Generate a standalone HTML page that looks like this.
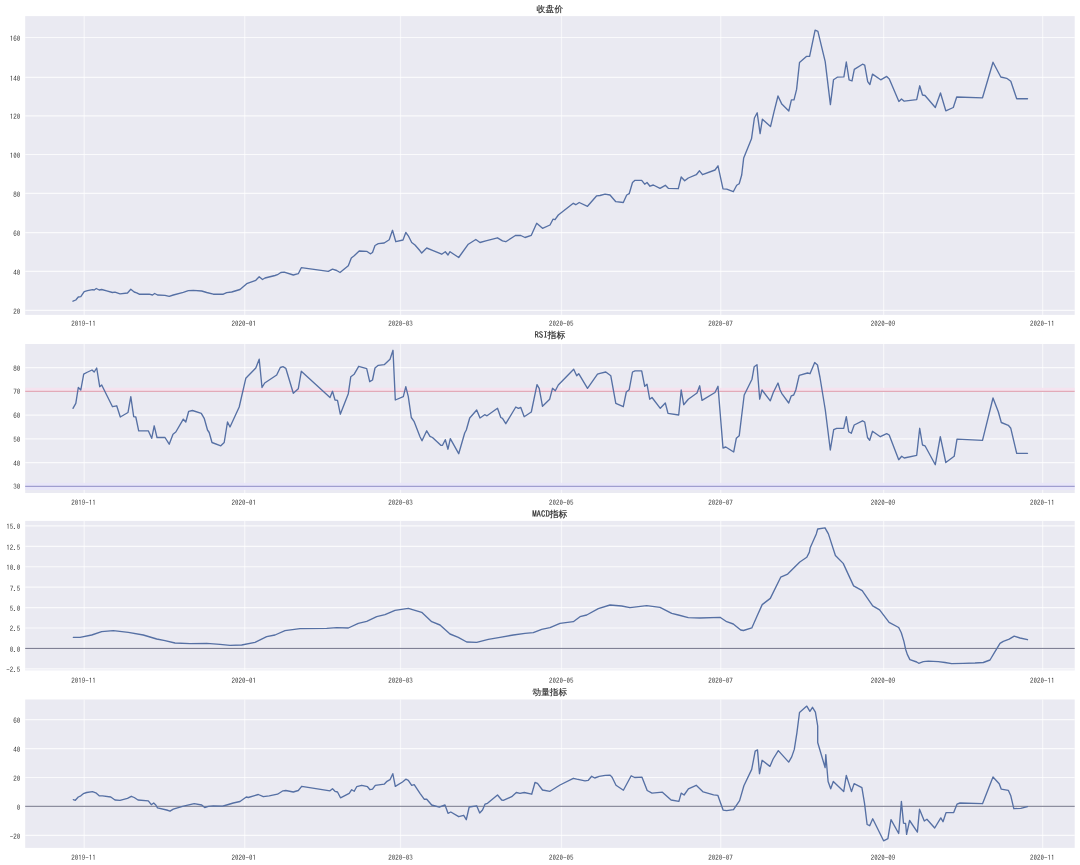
<!DOCTYPE html><html><head><meta charset="utf-8"><title>chart</title><style>html,body{margin:0;padding:0;background:#fff;}svg{display:block;filter:blur(0.35px);}.tk{font-family:"IPAGothic","Liberation Sans",sans-serif;font-size:7px;fill:#3a3a3a;}.tt{font-family:"WenQuanYi Zen Hei","Noto Sans CJK SC",sans-serif;font-size:8.8px;fill:#262626;stroke:#262626;stroke-width:0.15px;}</style></head><body>
<svg width="1080" height="865" viewBox="0 0 1080 865">
<rect width="1080" height="865" fill="#fff"/>
<rect x="25.2" y="16.1" width="1049.5" height="298.8" fill="#EAEAF2"/>
<path d="M84.2 16.1V314.9M244.7 16.1V314.9M400.5 16.1V314.9M561.5 16.1V314.9M720.7 16.1V314.9M883.6 16.1V314.9M1042.6 16.1V314.9" stroke="#fff" stroke-opacity="0.55" stroke-width="1.3" fill="none"/>
<path d="M25.2 310.4H1074.7M25.2 271.4H1074.7M25.2 232.6H1074.7M25.2 193.4H1074.7M25.2 154.5H1074.7M25.2 115.9H1074.7M25.2 77.3H1074.7M25.2 37.5H1074.7" stroke="#fff" stroke-opacity="0.75" stroke-width="1.2" fill="none"/>
<path d="M73 301.2 75.8 300 78.3 297 80.8 296.7 84.2 291.7 87.5 290.7 92.5 289.7 94.2 290 96.3 288.5 99.2 290 101.7 289.5 106.7 290.8 112.5 292.5 115 292.2 120 293.8 127.5 293 130.8 289.3 134.2 292 136.7 292.8 139.2 294.2 149.2 294.2 152.5 295 154.7 293.5 157.5 295 165 295.3 169.2 296.3 173.3 295 183.3 292.3 188.3 290.7 193.3 290.3 201.7 291 206.7 292.5 213.3 294.2 223.3 294.2 226.7 292.7 231.7 292 240 289.5 246.7 283.7 255.8 280.3 259.2 276.7 262.5 279.5 265 278 275 275.5 277.5 274.7 280.8 272.5 284.2 272.2 293.3 275 298.3 273.7 301.3 267.7 328.3 271.3 332.5 269.2 336.7 270.5 340 272.5 348.3 265.8 351.3 258 354.2 255.8 359.2 251 366.7 251.3 370.3 253.8 372.5 252.5 375 245.5 378.3 243.7 384.2 243 389.2 239.7 392.5 230.3 395.8 241.7 403 240 405.8 232.5 408.3 235.8 411.7 242.5 415 245 420 250.8 421.7 253 426.7 248 432.5 250.3 441.7 254.2 445.3 251.7 448 255 450 251.7 458.7 257.5 468.3 244.2 475.8 239.5 480 242.5 485.8 240.8 497.5 237.8 502.5 240.8 505.8 241.7 515.8 235.3 520.8 235.5 525 237.5 531.3 235.3 536.7 223.3 542.5 228.3 550 225 553 219.2 555 219.7 558.3 215 573.3 203.3 575.8 204.7 579.2 202.5 587.5 206.3 596.7 195.8 600 195.5 605 194.2 610 195 615.8 201.7 623.3 202.5 626.7 195 629.2 193.7 632.5 182.5 635 180.3 641.7 180.3 644.7 184.2 647 182.5 650 186.2 653.3 185 660 188.3 665.3 185.3 668.3 188.3 678.3 188.7 681.2 177 684.7 180.8 688.3 178 696.3 174.7 699.5 170.8 702.5 174.7 715 170 718 165.8 723 188.8 726.7 189.2 733.3 191.7 736.7 185.3 739.2 183.7 741.7 175 743.7 157.9 751.5 138.8 754.4 118 757.2 112.8 760.1 133.6 762.4 119.2 770.5 126.6 774 111.9 778 96 781.8 104.1 788.8 111 791.4 99.8 794 99.8 796.6 89.4 799.5 62.5 806.4 56.4 809.6 56.4 815.1 30.1 817.9 31.3 825.2 61.6 830.4 104.6 833.5 79.8 837.3 77.2 843.9 76.9 846.3 62 849.1 79.8 852 81 854.3 69.4 862.5 64.2 864.7 65.1 867.7 81.6 869.9 84.5 872.5 74.1 880.7 79.8 886.7 76.4 889.3 79 898.9 101.5 901.5 98.9 904.2 101.2 916.7 99.7 919.7 85.8 922.5 95 925 95.5 935.3 107.5 940.5 93 945.8 110.8 953.3 107.5 956.7 97 982.5 97.8 993 62.2 1000.8 77 1006.7 78.3 1010.8 81.3 1016.7 98.7 1027.5 98.7" stroke="#5670A4" stroke-width="1.35" fill="none" stroke-linejoin="round" stroke-linecap="round"/>
<text class="tk" x="83.6" y="326.2" text-anchor="middle">2019-11</text>
<text class="tk" x="243.8" y="326.2" text-anchor="middle">2020-01</text>
<text class="tk" x="400.5" y="326.2" text-anchor="middle">2020-03</text>
<text class="tk" x="561.2" y="326.2" text-anchor="middle">2020-05</text>
<text class="tk" x="720.6" y="326.2" text-anchor="middle">2020-07</text>
<text class="tk" x="883" y="326.2" text-anchor="middle">2020-09</text>
<text class="tk" x="1042.2" y="326.2" text-anchor="middle">2020-11</text>
<text class="tk" x="20.2" y="313.9" text-anchor="end">20</text>
<text class="tk" x="20.2" y="274.9" text-anchor="end">40</text>
<text class="tk" x="20.2" y="236.1" text-anchor="end">60</text>
<text class="tk" x="20.2" y="196.9" text-anchor="end">80</text>
<text class="tk" x="20.2" y="158" text-anchor="end">100</text>
<text class="tk" x="20.2" y="119.4" text-anchor="end">120</text>
<text class="tk" x="20.2" y="80.8" text-anchor="end">140</text>
<text class="tk" x="20.2" y="41" text-anchor="end">160</text>
<text class="tt" x="549.8" y="12" text-anchor="middle">收盘价</text>
<rect x="25.2" y="344" width="1049.5" height="149" fill="#EAEAF2"/>
<path d="M84.2 344V493M244.7 344V493M400.5 344V493M561.5 344V493M720.7 344V493M883.6 344V493M1042.6 344V493" stroke="#fff" stroke-opacity="0.55" stroke-width="1.3" fill="none"/>
<path d="M25.2 486.4H1074.7M25.2 462.64H1074.7M25.2 438.88H1074.7M25.2 415.12H1074.7M25.2 391.36H1074.7M25.2 367.6H1074.7" stroke="#fff" stroke-opacity="0.75" stroke-width="1.2" fill="none"/>
<rect x="25.2" y="387.8" width="1049.5" height="3.5" fill="#F6E2EE" opacity="0.9"/>
<path d="M25.2 391.3H1074.7" stroke="#E2AAB8" stroke-width="1.2"/>
<rect x="25.2" y="482.9" width="1049.5" height="7" fill="#E8E6FA" opacity="0.9"/>
<path d="M25.2 486.4H1074.7" stroke="#A09ED0" stroke-width="1.2"/>
<path d="M73 408.3 75.8 403.3 78.3 387.5 80.8 390 83.7 374.2 86.7 372.5 92 370 94.2 372 96.7 368 99.7 386.7 101.7 385 112.5 406.7 116.7 405.8 120.3 417 128 412.5 130.8 396.7 133.7 416.7 135.8 417 138.7 430.8 148.3 430.8 151.7 438.3 154.2 425.8 157 437.5 165 437.5 169.2 444.2 173 434.2 175.8 432 183.3 419.2 185.8 422 188.7 411.3 192.5 410.5 201.3 413.3 204.2 418.3 207.5 430 209.2 432.5 212 442.5 220.8 445.8 224.2 442.5 227.5 422 230 427 239.2 407 245.8 378.3 255.8 368 259.2 359.2 262 387.5 264.7 383 276.7 375 280.3 367.5 283 366.7 285.8 368.3 293.3 393.3 298.3 388.7 301.3 371.3 330 397.5 332.5 391.3 335 400 337.5 400.3 340.3 414.2 348.3 393.7 350.8 376.7 354.2 374.2 358.7 366.3 366.7 368.7 369.7 381.7 372.5 380 375 368 378.3 365.3 384.2 364.7 390 359.2 393 350.3 395.3 400 403.3 396.7 405.8 386.7 408.3 396.7 411.3 417.5 414.2 421.7 420 436.7 422 440.8 426.7 430.8 430 436.3 432.5 437.5 440.8 445.3 442.5 445.3 445.3 439.7 448 449.2 450.3 438.7 458.7 453.7 464.7 433 466.3 430 469.7 418 476.7 410 480 418 484.7 414.7 487 415.8 497.5 408.3 500.8 417.5 502.5 418.3 505.8 423.7 515.8 407 518.3 408.3 520.8 407.5 524.2 416.7 531.3 412 537 384.7 539.2 388.3 542.5 406.3 549.7 399.2 552.5 388.3 555.3 390.8 558.3 385 573.7 369.2 576.7 375.8 578.7 373.7 587.5 388.3 597.5 374.2 600 373.3 605.8 372 610.8 375.8 615.8 403.3 623.3 406.7 626.3 392 629.2 389.7 632.5 372 635 370.8 641.7 370.8 644.7 386.3 647 384.2 649.7 399.2 652 397.5 660.3 408.3 665.3 403 668 413.3 678.7 415 681.2 390 683.7 404.7 688.3 399.2 697 393 699.7 385.8 702 400.3 715 392.5 718 386.3 723 448 725.8 447 733.7 452 736.3 438.3 739.2 435.8 744.2 395 746.7 390 752 379.2 754.2 366.7 757 364.7 759.7 399.2 762 390 770.3 400.8 773.3 392.5 778 383 780 389.7 781.7 393.3 788.7 403 791.3 395.8 793.7 395 795.8 390 799.2 375.3 807.5 373 810 373.7 814.7 362.5 817.5 365 820 377.5 825.3 410 830.3 450 833.7 429.7 836.7 428.3 843.7 428.3 846.3 416.7 848.7 431.7 851.3 433.3 854.2 425 862.5 420.8 864.7 422 867.5 437.5 869.7 440.3 872.5 431.3 880.3 436.7 886.7 433.7 889.2 435 898.7 459.7 901.7 456.3 904.2 458 916.7 455.3 919.7 428.3 922.5 445 925 445.8 935.3 464.7 940.3 436.7 945.8 462.5 954.2 456.3 957 439.2 982.5 440.3 993 398 998.3 411.7 1001.3 422.5 1008.3 425.3 1010.8 428.3 1016.7 453.3 1027.5 453.3" stroke="#5670A4" stroke-width="1.35" fill="none" stroke-linejoin="round" stroke-linecap="round"/>
<text class="tk" x="83.6" y="504.7" text-anchor="middle">2019-11</text>
<text class="tk" x="243.8" y="504.7" text-anchor="middle">2020-01</text>
<text class="tk" x="400.5" y="504.7" text-anchor="middle">2020-03</text>
<text class="tk" x="561.2" y="504.7" text-anchor="middle">2020-05</text>
<text class="tk" x="720.6" y="504.7" text-anchor="middle">2020-07</text>
<text class="tk" x="883" y="504.7" text-anchor="middle">2020-09</text>
<text class="tk" x="1042.2" y="504.7" text-anchor="middle">2020-11</text>
<text class="tk" x="20.2" y="489.3" text-anchor="end">30</text>
<text class="tk" x="20.2" y="465.54" text-anchor="end">40</text>
<text class="tk" x="20.2" y="441.78" text-anchor="end">50</text>
<text class="tk" x="20.2" y="418.02" text-anchor="end">60</text>
<text class="tk" x="20.2" y="394.26" text-anchor="end">70</text>
<text class="tk" x="20.2" y="370.5" text-anchor="end">80</text>
<text class="tt" x="549.8" y="338.2" text-anchor="middle"><tspan font-family="IPAGothic">RSI</tspan>指标</text>
<rect x="25.2" y="520.9" width="1049.5" height="149.5" fill="#EAEAF2"/>
<path d="M84.2 520.9V670.4M244.7 520.9V670.4M400.5 520.9V670.4M561.5 520.9V670.4M720.7 520.9V670.4M883.6 520.9V670.4M1042.6 520.9V670.4" stroke="#fff" stroke-opacity="0.55" stroke-width="1.3" fill="none"/>
<path d="M25.2 668.82H1074.7M25.2 648.4H1074.7M25.2 627.98H1074.7M25.2 607.57H1074.7M25.2 587.15H1074.7M25.2 566.73H1074.7M25.2 546.32H1074.7M25.2 525.9H1074.7" stroke="#fff" stroke-opacity="0.75" stroke-width="1.2" fill="none"/>
<path d="M25.2 648.4H1074.7" stroke="#62637A" stroke-width="0.9"/>
<path d="M73.3 637.3 80 637.3 91.7 635 101.7 631.7 113.3 630.7 128.3 632.3 143.3 635 156.7 639 165 640.7 175 643 190 643.7 206.7 643.3 220 644.3 230 645.3 241.7 645 255 642.3 266.7 636.7 275 635 285 630.7 300 628.7 326.7 628.3 336.7 627.7 348.3 628 358.3 623.3 366.7 621.3 376.7 616.7 385 614.7 395 610.3 408.3 608.3 421.7 612.3 431.7 621.7 440 625 450 634 458.3 637.3 466.7 642 476.7 642.3 488.3 639.3 500 637.3 513.3 635 525 633.3 533.3 632.7 541.7 629.3 550 627.7 560 623.3 573.3 621.7 580 616.7 586.7 615 598.3 608.7 610 605 621.7 606 630 607.7 646.7 605.7 660 607.3 671.7 613.3 678.3 615 688.3 617.7 700 618 720 617.3 726.7 621.7 733.3 624 740.7 630 743.5 630.5 751.8 627.9 757.3 615.4 762.2 604.6 770.3 598.4 780.7 577.2 787.7 574.1 799.8 562 806.8 557.3 809.4 552.1 810.2 547.7 816.3 533.9 817.7 529 825 527.8 828.4 533.9 835.4 555.5 843.2 563.4 853.6 585.9 862.2 590.7 872.7 605.8 879.6 609.8 889.1 622.3 898.7 627.5 901.3 632.7 903.9 641.4 905.6 649.2 907.3 654.4 909.9 659.6 916.7 662 918.7 663.3 923.3 661.7 928.3 661.2 938.3 661.7 945 662.5 951.7 663.7 963.3 663.3 975 663 983.3 662.5 990 660 995 651.7 1000 643.3 1003.3 641.3 1009.2 639.2 1014.2 636.2 1020 638 1027.5 639.7" stroke="#5670A4" stroke-width="1.35" fill="none" stroke-linejoin="round" stroke-linecap="round"/>
<text class="tk" x="83.6" y="682.6" text-anchor="middle">2019-11</text>
<text class="tk" x="243.8" y="682.6" text-anchor="middle">2020-01</text>
<text class="tk" x="400.5" y="682.6" text-anchor="middle">2020-03</text>
<text class="tk" x="561.2" y="682.6" text-anchor="middle">2020-05</text>
<text class="tk" x="720.6" y="682.6" text-anchor="middle">2020-07</text>
<text class="tk" x="883" y="682.6" text-anchor="middle">2020-09</text>
<text class="tk" x="1042.2" y="682.6" text-anchor="middle">2020-11</text>
<text class="tk" x="20.2" y="672.32" text-anchor="end">-2.5</text>
<text class="tk" x="20.2" y="651.9" text-anchor="end">0.0</text>
<text class="tk" x="20.2" y="631.48" text-anchor="end">2.5</text>
<text class="tk" x="20.2" y="611.07" text-anchor="end">5.0</text>
<text class="tk" x="20.2" y="590.65" text-anchor="end">7.5</text>
<text class="tk" x="20.2" y="570.23" text-anchor="end">10.0</text>
<text class="tk" x="20.2" y="549.82" text-anchor="end">12.5</text>
<text class="tk" x="20.2" y="529.4" text-anchor="end">15.0</text>
<text class="tt" x="549.8" y="516.6" text-anchor="middle"><tspan font-family="IPAGothic">MACD</tspan>指标</text>
<rect x="25.2" y="699.5" width="1049.5" height="148.4" fill="#EAEAF2"/>
<path d="M84.2 699.5V847.9M244.7 699.5V847.9M400.5 699.5V847.9M561.5 699.5V847.9M720.7 699.5V847.9M883.6 699.5V847.9M1042.6 699.5V847.9" stroke="#fff" stroke-opacity="0.55" stroke-width="1.3" fill="none"/>
<path d="M25.2 835.4H1074.7M25.2 806.45H1074.7M25.2 777.5H1074.7M25.2 748.55H1074.7M25.2 719.6H1074.7" stroke="#fff" stroke-opacity="0.75" stroke-width="1.2" fill="none"/>
<path d="M25.2 806.3H1074.7" stroke="#62637A" stroke-width="0.9"/>
<path d="M73.3 799.7 75.3 800.3 78.3 797 80.8 795.8 83.3 793.7 86.7 792.5 92.5 791.7 95.8 792.8 99.2 795.8 102.5 795.8 110.8 797 115 800 120 800.3 127.5 798.3 131.3 796.3 134.2 797.5 138 800 148.3 800.8 151.3 804.7 153.7 803 155.8 805 157.5 807.8 166.7 810 170 811.2 173.3 809.2 182.5 806.3 194.2 803.7 201.7 805 204.7 807.5 208.3 806.3 213.3 805.8 222.5 806.2 226.7 805 233.3 803 240 801.5 246.3 797 248.3 797.5 258.3 794.5 263.3 796.7 269.2 795.8 277.5 794.2 283 790.8 285.8 790.5 293.3 792 298.3 790.5 301.7 786.3 330 790.8 332.5 788.7 335 791.3 337.5 792 340.5 797.8 349.2 793.3 351.7 789.7 354.2 791.3 356.7 786.7 361.7 785.3 367.5 786.7 370 789.7 372.5 789.2 375.3 785.3 384.2 784.2 387 781.3 390 779.7 392.8 773.7 395.3 786.3 402.5 782 405.8 779.2 408.3 780.3 411.7 785.3 414.2 784.7 420 793.3 424.2 799.2 426.7 799.2 431.7 805 439.2 807.2 445 805 448 813.3 450.8 812 458.7 816.7 463.7 815.3 466.3 819.7 469.2 807 476.7 805.8 479.7 813 482.5 810 485 804.2 487.5 803.3 497.5 795 501.7 800 503.3 800.3 511.7 796.7 516.3 792.5 520 793.3 524.2 792.5 531.7 794.2 535 782.5 537.5 783.3 542.5 790 550 791.3 560 785 573.3 778.3 576.7 779.2 585 780.8 588.3 780.3 591.7 776.3 594.7 778 599.2 776.3 605.2 775.4 610.1 775.1 612.1 777.2 616 785.3 623.4 790.2 631.2 775.8 634.7 777.5 642 777.2 647.2 790.5 652 793.1 662.4 792.2 671.1 800 678.9 801.4 681.2 793.1 684.1 795 688.4 788.8 696.2 785.3 703.2 791.9 713.6 794.9 717.9 795.4 723.1 810.1 726.6 810.6 733.5 809.6 739.6 800.6 743.9 785.8 751.7 769.4 755.2 751.2 757.5 749.9 759.5 773.7 762.1 760.3 769.9 766.4 773.1 759 778.3 750.6 788.7 762.1 791.7 756.9 794.3 749.4 796.9 732.9 799.5 712.5 806.8 706.1 809.9 711.3 812.5 707.3 815.4 712.1 817.7 726 817.7 742.5 825.1 767.6 825.8 754.6 828.1 781.5 830.7 788.8 833.3 781.5 843.7 791.6 846.3 775.4 851.5 791.6 854.1 783.6 861.9 787.6 864.5 803.2 867.1 824.5 869.7 825.7 872.7 818.8 883.6 840.8 887.9 838.7 891 819.6 898.7 833.5 901.4 801.4 903.5 823.1 905.6 823.5 906.6 834.4 909.6 820.5 917.4 832.1 919.5 809.2 924.3 821 926.9 819.3 934.7 828 940.8 817.9 943 821.7 946 812.7 953.7 812.5 957 804.2 960 803 982.5 803.7 993 777 999.2 783.7 1001.3 789.2 1008.3 790.3 1010.8 795.8 1013.8 808.7 1020.8 808.3 1027.5 806.7" stroke="#5670A4" stroke-width="1.35" fill="none" stroke-linejoin="round" stroke-linecap="round"/>
<text class="tk" x="83.6" y="860.3" text-anchor="middle">2019-11</text>
<text class="tk" x="243.8" y="860.3" text-anchor="middle">2020-01</text>
<text class="tk" x="400.5" y="860.3" text-anchor="middle">2020-03</text>
<text class="tk" x="561.2" y="860.3" text-anchor="middle">2020-05</text>
<text class="tk" x="720.6" y="860.3" text-anchor="middle">2020-07</text>
<text class="tk" x="883" y="860.3" text-anchor="middle">2020-09</text>
<text class="tk" x="1042.2" y="860.3" text-anchor="middle">2020-11</text>
<text class="tk" x="20.2" y="839.1" text-anchor="end">-20</text>
<text class="tk" x="20.2" y="810.15" text-anchor="end">0</text>
<text class="tk" x="20.2" y="781.2" text-anchor="end">20</text>
<text class="tk" x="20.2" y="752.25" text-anchor="end">40</text>
<text class="tk" x="20.2" y="723.3" text-anchor="end">60</text>
<text class="tt" x="549.8" y="694.7" text-anchor="middle" style="font-size:8.6px">动量指标</text>
</svg></body></html>
